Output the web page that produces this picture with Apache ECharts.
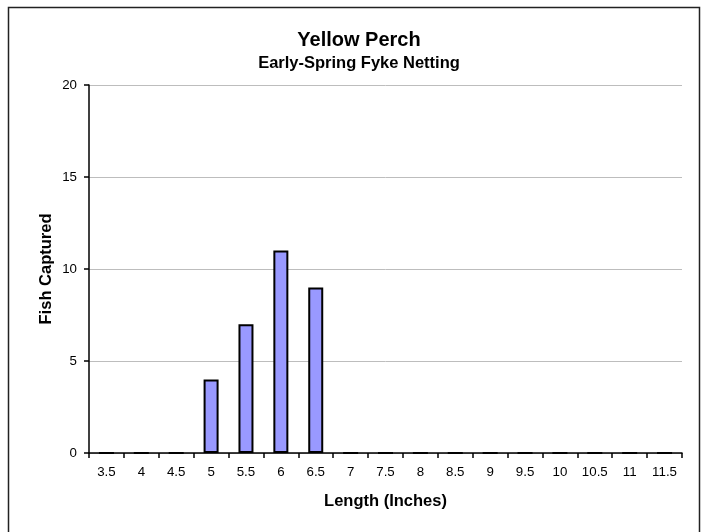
<!DOCTYPE html>
<html>
<head>
<meta charset="utf-8">
<script src="https://cdn.jsdelivr.net/npm/echarts@6/dist/echarts.min.js"></script>
<style>
  html, body { margin: 0; padding: 0; background: #fff; }
  #chart { width: 702px; height: 532px; }
</style>
</head>
<body>
<div id="chart"></div>
<script>
// length classes (inches) and fish counts
var lengths = ['3.5', '4', '4.5', '5', '5.5', '6', '6.5', '7', '7.5', '8', '8.5', '9', '9.5', '10', '10.5', '11', '11.5'];
var fishCaptured = [0, 0, 0, 4, 7, 11, 9, 0, 0, 0, 0, 0, 0, 0, 0, 0, 0];
var yTicks = [0, 5, 10, 15, 20];

var font = '"Liberation Sans", Arial, sans-serif';
var chart = echarts.init(document.getElementById('chart'), null, { renderer: 'canvas' });

chart.setOption({
  animation: false,
  backgroundColor: '#fff',
  title: [
    {
      text: 'Yellow Perch',
      left: 354, top: 25, textAlign: 'center',
      textStyle: { fontFamily: font, fontSize: 20, fontWeight: 'bold', color: '#000' }
    },
    {
      text: 'Early-Spring Fyke Netting',
      left: 354, top: 50, textAlign: 'center',
      textStyle: { fontFamily: font, fontSize: 16.5, fontWeight: 'bold', color: '#000' }
    }
  ],
  graphic: [{
    type: 'rect',
    shape: { x: 8.5, y: 7.5, width: 691, height: 540 },
    style: { fill: 'none', stroke: '#222', lineWidth: 1.5 },
    silent: true
  }],
  grid: { left: 89, right: 20, top: 85, bottom: 79 },
  xAxis: {
    type: 'category',
    data: lengths,
    boundaryGap: true,
    name: 'Length (Inches)',
    nameLocation: 'middle',
    nameGap: 40,
    nameMoveOverlap: false,
    nameTextStyle: { fontFamily: font, fontSize: 16.5, fontWeight: 'bold', color: '#000' },
    axisLine: { lineStyle: { color: '#000', width: 1.5 } },
    axisTick: { show: true, length: 5, inside: false, lineStyle: { color: '#000', width: 1.5 } },
    axisLabel: { margin: 13, fontFamily: font, fontSize: 13.3, color: '#000', interval: 0 },
    splitLine: { show: false }
  },
  yAxis: {
    type: 'value',
    min: yTicks[0],
    max: yTicks[yTicks.length - 1],
    interval: 5,
    name: 'Fish Captured',
    nameLocation: 'middle',
    nameGap: 34,
    nameMoveOverlap: false,
    nameTextStyle: { fontFamily: font, fontSize: 16.5, fontWeight: 'bold', color: '#000' },
    axisLine: { show: true, lineStyle: { color: '#000', width: 1.5 } },
    axisTick: { show: true, length: 5, lineStyle: { color: '#000', width: 1.5 } },
    axisLabel: { margin: 12, fontFamily: font, fontSize: 13.3, color: '#000' },
    splitLine: { show: true, lineStyle: { color: '#bdbdbd', width: 1 } }
  },
  series: [{
    type: 'bar',
    data: fishCaptured,
    barWidth: 15,
    itemStyle: { color: '#9999ff', borderColor: '#000', borderWidth: 2 }
  }]
});
</script>
</body>
</html>
